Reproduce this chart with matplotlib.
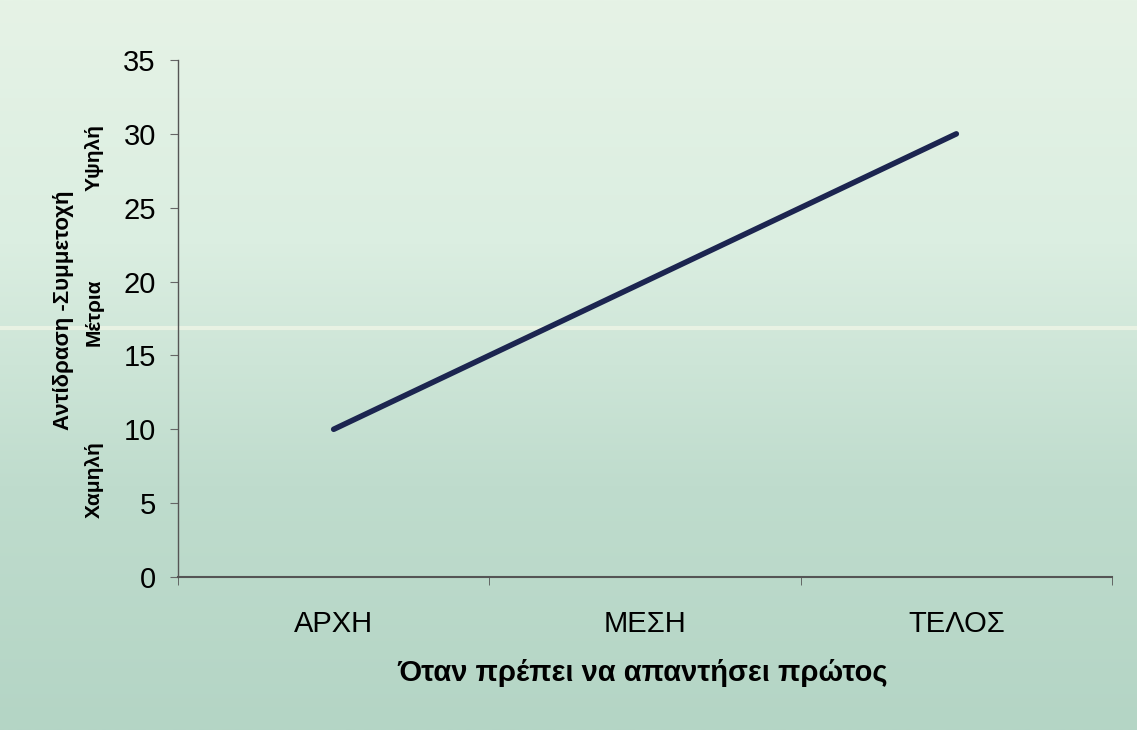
import matplotlib
matplotlib.use("Agg")
import matplotlib.pyplot as plt
import numpy as np
from matplotlib.colors import LinearSegmentedColormap
from matplotlib import font_manager

categories = ["ΑΡΧΗ", "ΜΕΣΗ", "ΤΕΛΟΣ"]
values = [10, 20, 30]
yticks = [0, 5, 10, 15, 20, 25, 30, 35]
level_labels = ["Χαμηλή", "Μέτρια", "Υψηλή"]

names = {f.name for f in font_manager.fontManager.ttflist}
narrow = 'Liberation Sans Narrow' if 'Liberation Sans Narrow' in names else 'Liberation Sans'
narrow_scale = 1.0 if narrow == 'Liberation Sans Narrow' else 0.84

plt.rcParams['font.family'] = ['Liberation Sans', 'DejaVu Sans']

fig = plt.figure(figsize=(11.37, 7.30), dpi=100)

# background gradient (scanned paper tint)
bg = fig.add_axes([0, 0, 1, 1], zorder=0)
cmap = LinearSegmentedColormap.from_list("bg", ["#e6f3e6", "#dbeee1", "#bfdccd", "#b4d5c5"])
grad = np.linspace(0, 1, 256).reshape(-1, 1)
bg.imshow(grad, aspect='auto', cmap=cmap, extent=[0, 1, 0, 1], origin='upper')
bg.axhline(1 - 328 / 730, color='#eef5e6', lw=3, alpha=0.8)
bg.set_axis_off()

ax = fig.add_axes([178 / 1137, 1 - 577 / 730, (1112 - 178) / 1137, (577 - 60) / 730], zorder=1)
ax.patch.set_alpha(0)

x = np.arange(len(categories))
ax.plot(x, values, color='#1c2550', lw=4.0, solid_capstyle='round')

ax.set_xlim(-0.5, len(categories) - 0.5)
ax.set_ylim(0, 35)
ax.set_yticks(yticks)
ax.set_yticklabels([str(v) for v in yticks], fontsize=21)
ax.set_xticks(x)
ax.set_xticklabels(categories, fontsize=25 * narrow_scale, family=[narrow, 'DejaVu Sans'])
ax.tick_params(axis='x', length=0, pad=24)
ax.set_xticks(np.arange(-0.5, len(categories), 1.0), minor=True)
ax.tick_params(axis='x', which='minor', length=6, direction='out', color='#555555')
ax.tick_params(axis='y', length=6, direction='out', color='#666666', pad=10)

for s in ['top', 'right']:
    ax.spines[s].set_visible(False)
ax.spines['left'].set_color('#555555')
ax.spines['bottom'].set_color('#555555')
ax.spines['left'].set_linewidth(1.0)
ax.spines['bottom'].set_linewidth(1.5)

fig.text(643 / 1137, 1 - 673 / 730, "Όταν πρέπει να απαντήσει πρώτος",
         fontsize=25 * narrow_scale, fontweight='bold', family=[narrow, 'DejaVu Sans'],
         ha='center', va='center')

# y axis label and level labels
fig.text(63 / 1137, 1 - 310 / 730, "Αντίδραση -Συμμετοχή", rotation=90, fontsize=16,
         fontweight='bold', ha='center', va='center')
for lab, yy in zip(level_labels, [480, 312, 158]):
    fig.text(94 / 1137, 1 - yy / 730, lab, rotation=90, fontsize=15,
             fontweight='bold', ha='center', va='center')

fig.savefig("out.png", dpi=100)
